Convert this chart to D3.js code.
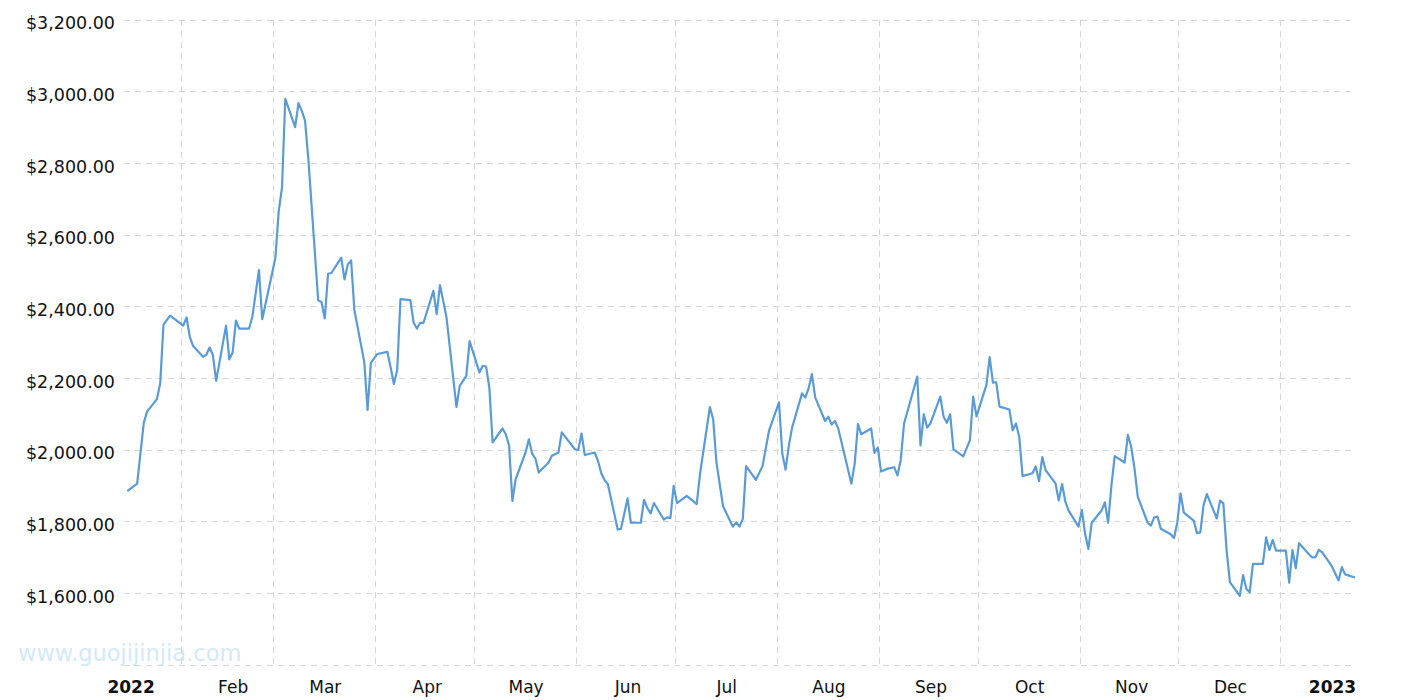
<!DOCTYPE html>
<html lang="en">
<head>
    <meta charset="UTF-8">
    <title>Price 2022</title>
    <style>
        body { margin: 0; background: #fff; }
        .grid line {
            stroke: #d6d6d6;
            stroke-width: 1;
            stroke-dasharray: 6, 5;
            shape-rendering: crispEdges;
        }
        .axis text {
            font-family: 'DejaVu Sans', Verdana, sans-serif;
            fill: #111;
        }
    </style>
</head>
<body>
    <div id='chart'></div>

    <script src='https://cdnjs.cloudflare.com/ajax/libs/d3/7.8.5/d3.min.js'></script>
    <script type='text/javascript'>
        // series
        const dates = [
            '2021-12-31', '2022-01-03', '2022-01-05', '2022-01-06', '2022-01-09', '2022-01-10', '2022-01-11', '2022-01-13',
            '2022-01-17', '2022-01-18', '2022-01-19', '2022-01-20', '2022-01-23', '2022-01-24', '2022-01-25', '2022-01-26',
            '2022-01-27', '2022-01-30', '2022-01-31', '2022-02-01', '2022-02-02', '2022-02-03', '2022-02-06', '2022-02-07',
            '2022-02-09', '2022-02-10', '2022-02-13', '2022-02-14', '2022-02-15', '2022-02-16', '2022-02-17', '2022-02-20',
            '2022-02-21', '2022-02-22', '2022-02-23', '2022-02-24', '2022-02-27', '2022-02-28', '2022-03-01', '2022-03-02',
            '2022-03-03', '2022-03-06', '2022-03-07', '2022-03-08', '2022-03-09', '2022-03-10', '2022-03-13', '2022-03-14',
            '2022-03-15', '2022-03-17', '2022-03-20', '2022-03-21', '2022-03-22', '2022-03-23', '2022-03-24', '2022-03-27',
            '2022-03-28', '2022-03-29', '2022-03-30', '2022-03-31', '2022-04-03', '2022-04-04', '2022-04-05', '2022-04-06',
            '2022-04-07', '2022-04-10', '2022-04-11', '2022-04-13', '2022-04-14', '2022-04-17', '2022-04-18', '2022-04-19',
            '2022-04-20', '2022-04-21', '2022-04-24', '2022-04-25', '2022-04-26', '2022-04-27', '2022-04-28', '2022-05-01',
            '2022-05-02', '2022-05-03', '2022-05-04', '2022-05-05', '2022-05-08', '2022-05-09', '2022-05-11', '2022-05-12',
            '2022-05-16', '2022-05-17', '2022-05-18', '2022-05-19', '2022-05-22', '2022-05-23', '2022-05-24', '2022-05-25',
            '2022-05-26', '2022-05-29', '2022-05-30', '2022-06-01', '2022-06-02', '2022-06-05', '2022-06-06', '2022-06-07',
            '2022-06-08', '2022-06-09', '2022-06-12', '2022-06-13', '2022-06-14', '2022-06-15', '2022-06-16', '2022-06-19',
            '2022-06-22', '2022-06-23', '2022-06-26', '2022-06-27', '2022-06-28', '2022-06-30', '2022-07-03', '2022-07-04',
            '2022-07-05', '2022-07-06', '2022-07-07', '2022-07-10', '2022-07-12', '2022-07-14', '2022-07-17', '2022-07-18',
            '2022-07-19', '2022-07-20', '2022-07-21', '2022-07-24', '2022-07-25', '2022-07-26', '2022-07-27', '2022-07-28',
            '2022-07-31', '2022-08-01', '2022-08-02', '2022-08-03', '2022-08-04', '2022-08-08', '2022-08-09', '2022-08-10',
            '2022-08-11', '2022-08-14', '2022-08-15', '2022-08-16', '2022-08-17', '2022-08-19', '2022-08-21', '2022-08-22',
            '2022-08-23', '2022-08-24', '2022-08-28', '2022-08-29', '2022-08-30', '2022-08-31', '2022-09-01', '2022-09-04',
            '2022-09-05', '2022-09-06', '2022-09-07', '2022-09-08', '2022-09-11', '2022-09-13', '2022-09-14', '2022-09-15',
            '2022-09-18', '2022-09-19', '2022-09-20', '2022-09-21', '2022-09-22', '2022-09-25', '2022-09-26', '2022-09-27',
            '2022-09-28', '2022-09-29', '2022-10-02', '2022-10-03', '2022-10-04', '2022-10-05', '2022-10-06', '2022-10-09',
            '2022-10-10', '2022-10-11', '2022-10-12', '2022-10-13', '2022-10-16', '2022-10-17', '2022-10-18', '2022-10-19',
            '2022-10-20', '2022-10-23', '2022-10-24', '2022-10-25', '2022-10-26', '2022-10-27', '2022-10-30', '2022-10-31',
            '2022-11-01', '2022-11-02', '2022-11-03', '2022-11-06', '2022-11-07', '2022-11-08', '2022-11-09', '2022-11-10',
            '2022-11-13', '2022-11-14', '2022-11-15', '2022-11-16', '2022-11-17', '2022-11-20', '2022-11-21', '2022-11-22',
            '2022-11-23', '2022-11-24', '2022-11-27', '2022-11-28', '2022-11-29', '2022-11-30', '2022-12-01', '2022-12-04',
            '2022-12-05', '2022-12-06', '2022-12-07', '2022-12-08', '2022-12-11', '2022-12-12', '2022-12-13', '2022-12-14',
            '2022-12-15', '2022-12-18', '2022-12-19', '2022-12-20', '2022-12-21', '2022-12-22', '2022-12-25', '2022-12-26',
            '2022-12-27', '2022-12-28', '2022-12-29', '2023-01-01', '2023-01-03', '2023-01-04', '2023-01-05', '2023-01-08'
        ];

        const prices = [
            1885, 1906, 2075, 2107, 2142, 2186, 2350, 2375,
            2347, 2370, 2316, 2290, 2260, 2265, 2286, 2265,
            2193, 2347, 2253, 2272, 2361, 2339, 2339, 2372,
            2502, 2365, 2493, 2537, 2666, 2732, 2980, 2901,
            2968, 2947, 2919, 2813, 2418, 2413, 2367, 2492,
            2494, 2537, 2476, 2518, 2529, 2390, 2246, 2112,
            2243, 2268, 2274, 2231, 2184, 2223, 2421, 2418,
            2355, 2339, 2355, 2355, 2444, 2379, 2460, 2416,
            2369, 2120, 2179, 2207, 2304, 2216, 2235, 2233,
            2174, 2021, 2060, 2044, 2012, 1858, 1919, 1993,
            2030, 1990, 1976, 1937, 1965, 1984, 1993, 2049,
            2002, 2000, 2046, 1986, 1993, 1970, 1935, 1916,
            1905, 1778, 1780, 1865, 1797, 1797, 1861, 1838,
            1823, 1852, 1806, 1812, 1810, 1900, 1852, 1872,
            1849, 1933, 2120, 2086, 1965, 1843, 1786, 1798,
            1786, 1807, 1955, 1917, 1955, 2055, 2133, 1990,
            1945, 2013, 2063, 2158, 2146, 2172, 2212, 2147,
            2081, 2093, 2071, 2081, 2060, 1906, 1962, 2072,
            2044, 2060, 1992, 2007, 1940, 1948, 1952, 1929,
            1973, 2074, 2205, 2013, 2100, 2063, 2074, 2149,
            2093, 2076, 2100, 2002, 1982, 2027, 2149, 2094,
            2181, 2259, 2188, 2189, 2121, 2113, 2055, 2074,
            2036, 1927, 1935, 1954, 1913, 1980, 1944, 1907,
            1859, 1905, 1856, 1831, 1786, 1833, 1766, 1724,
            1797, 1831, 1854, 1797, 1901, 1983, 1965, 2042,
            2009, 1949, 1870, 1797, 1789, 1812, 1814, 1780,
            1765, 1754, 1797, 1879, 1825, 1803, 1768, 1770,
            1847, 1877, 1809, 1859, 1851, 1719, 1631, 1593,
            1651, 1612, 1603, 1682, 1682, 1756, 1721, 1749,
            1719, 1719, 1630, 1721, 1670, 1740, 1709, 1700,
            1701, 1721, 1715, 1675, 1636, 1673, 1653, 1644
        ];

        // axes
        const yTicks = [1400, 1600, 1800, 2000, 2200, 2400, 2600, 2800, 3000, 3200];
        const yLabelTicks = [1600, 1800, 2000, 2200, 2400, 2600, 2800, 3000, 3200];
        const monthTicks = ['2022-01-01', '2022-02-01', '2022-03-01', '2022-04-01', '2022-05-01', '2022-06-01', '2022-07-01',
                            '2022-08-01', '2022-09-01', '2022-10-01', '2022-11-01', '2022-12-01', '2023-01-01'];
        const monthLabels = ['2022', 'Feb', 'Mar', 'Apr', 'May', 'Jun', 'Jul', 'Aug', 'Sep', 'Oct', 'Nov', 'Dec', '2023'];
        // vertical grid lines, mid month (noon)
        const gridTicks = ['2022-01-16', '2022-02-13', '2022-03-16', '2022-04-15', '2022-05-16', '2022-06-15',
                           '2022-07-16', '2022-08-16', '2022-09-15', '2022-10-16', '2022-11-15', '2022-12-16'];
        const xDomain = ['2021-12-30', '2023-01-08'];

        const width = 1415;
        const height = 700;
        const plot = { left: 124, right: 1355, top: 20, bottom: 665 };

        const parseDate = d3.timeParse('%Y-%m-%d');
        const data = dates.map((d, i) => ({ date: parseDate(d), value: prices[i] }));
        const tickDates = monthTicks.map(parseDate);
        const gridDates = gridTicks.map((d) => d3.timeHour.offset(parseDate(d), 12));

        let svg = d3.select('#chart')
                    .append('svg')
                      .attr('width', width)
                      .attr('height', height);

        let xScale = d3.scaleTime()
                       .domain(xDomain.map(parseDate))
                       .range([plot.left, plot.right]);

        let yScale = d3.scaleLinear()
                       .domain([1400, 3200])
                       .range([plot.bottom, plot.top]);

        // watermark
        svg.append('text')
             .attr('x', 18)
             .attr('y', 661)
             .style('font-family', "'DejaVu Sans', Verdana, sans-serif")
             .style('font-size', '22.5px')
             .style('fill', '#d3e9fa')
             .text('www.guojijinjia.com');

        // horizontal grid
        svg.append('g')
             .attr('class', 'grid')
           .selectAll('line')
             .data(yTicks)
             .enter()
           .append('line')
             .attr('x1', plot.left)
             .attr('x2', plot.right)
             .attr('y1', (d) => yScale(d))
             .attr('y2', (d) => yScale(d));

        // vertical grid
        svg.append('g')
             .attr('class', 'grid')
           .selectAll('line')
             .data(gridDates)
             .enter()
           .append('line')
             .attr('x1', (d) => xScale(d))
             .attr('x2', (d) => xScale(d))
             .attr('y1', plot.top)
             .attr('y2', plot.bottom);

        // y axis labels
        let yAxis = d3.axisLeft(yScale)
                      .tickValues(yLabelTicks)
                      .tickSize(0)
                      .tickPadding(0)
                      .tickFormat((d) => '$' + d3.format(',.2f')(d));

        svg.append('g')
             .attr('class', 'axis y-axis')
             .attr('transform', 'translate(115, 0)')
             .call(yAxis)
           .call((g) => g.select('.domain').remove())
           .selectAll('text')
             .attr('dy', '0.5em')
             .style('font-size', '17.5px');

        // x axis labels
        let xAxis = d3.axisBottom(xScale)
                      .tickValues(tickDates)
                      .tickSize(0)
                      .tickPadding(0)
                      .tickFormat((d, i) => monthLabels[i]);

        svg.append('g')
             .attr('class', 'axis x-axis')
             .attr('transform', 'translate(0, 680)')
             .call(xAxis)
           .call((g) => g.select('.domain').remove())
           .selectAll('text')
             .attr('dy', '0.76em')
             .style('font-size', '17px')
             .style('font-weight', (d, i) => /^\d+$/.test(monthLabels[i]) ? 'bold' : 'normal');

        // price line
        let line = d3.line()
                     .x((d) => xScale(d.date))
                     .y((d) => yScale(d.value));

        svg.append('path')
             .datum(data)
             .attr('d', line)
             .attr('fill', 'none')
             .attr('stroke', '#5b9bd5')
             .attr('stroke-width', 2.2)
             .attr('stroke-linejoin', 'round');
    </script>
</body>
</html>
